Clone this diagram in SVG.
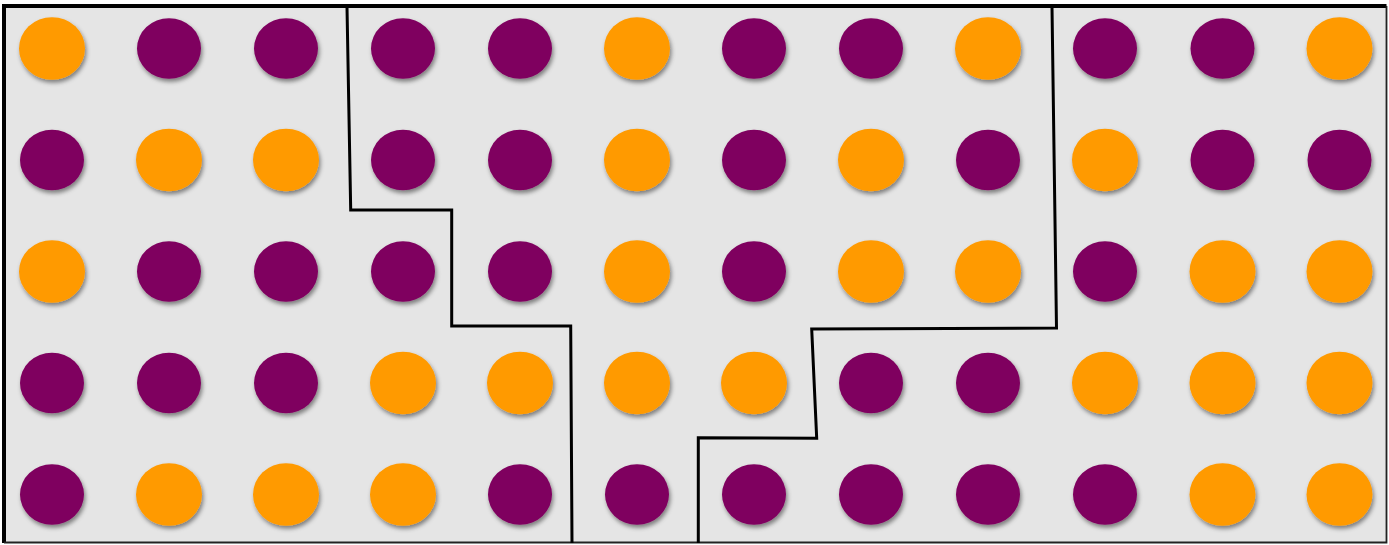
<svg xmlns="http://www.w3.org/2000/svg" width="1389" height="545" viewBox="0 0 1389 545">
<defs>
<filter id="sh" x="-30%" y="-30%" width="170%" height="170%">
<feDropShadow dx="1.5" dy="3" stdDeviation="2.2" flood-color="#000" flood-opacity="0.45"/>
</filter>
<style>
.o{fill:#FF9A00;filter:url(#sh)}
.p{fill:#7F005F;filter:url(#sh)}
.ln{fill:none;stroke:#000;stroke-width:3;stroke-linejoin:miter}
</style>
</defs>
<rect x="0" y="0" width="1389" height="545" fill="#fff"/>
<g id="panel">
<rect x="4" y="6" width="1382.5" height="536.5" fill="#e5e5e5" stroke="none"/>
<path d="M4 543 V6 H1386.5" fill="none" stroke="#000" stroke-width="4"/>
<path d="M1386.5 6 V542.5 H4" fill="none" stroke="#222" stroke-width="1.8"/>
</g>
<g id="dots">
<g id="row1">
<ellipse class="o" cx="52" cy="48.5" rx="33" ry="31.3"/>
<ellipse class="p" cx="169" cy="48.5" rx="32" ry="30.3"/>
<ellipse class="p" cx="286" cy="48.5" rx="32" ry="30.3"/>
<ellipse class="p" cx="403" cy="48.5" rx="32" ry="30.3"/>
<ellipse class="p" cx="520" cy="48.5" rx="32" ry="30.3"/>
<ellipse class="o" cx="637" cy="48.5" rx="33" ry="31.3"/>
<ellipse class="p" cx="754" cy="48.5" rx="32" ry="30.3"/>
<ellipse class="p" cx="871" cy="48.5" rx="32" ry="30.3"/>
<ellipse class="o" cx="988" cy="48.5" rx="33" ry="31.3"/>
<ellipse class="p" cx="1105" cy="48.5" rx="32" ry="30.3"/>
<ellipse class="p" cx="1222.5" cy="48.5" rx="32" ry="30.3"/>
<ellipse class="o" cx="1339.5" cy="48.5" rx="33" ry="31.3"/>
</g>
<g id="row2">
<ellipse class="p" cx="52" cy="160" rx="32" ry="30.3"/>
<ellipse class="o" cx="169" cy="160" rx="33" ry="31.3"/>
<ellipse class="o" cx="286" cy="160" rx="33" ry="31.3"/>
<ellipse class="p" cx="403" cy="160" rx="32" ry="30.3"/>
<ellipse class="p" cx="520" cy="160" rx="32" ry="30.3"/>
<ellipse class="o" cx="637" cy="160" rx="33" ry="31.3"/>
<ellipse class="p" cx="754" cy="160" rx="32" ry="30.3"/>
<ellipse class="o" cx="871" cy="160" rx="33" ry="31.3"/>
<ellipse class="p" cx="988" cy="160" rx="32" ry="30.3"/>
<ellipse class="o" cx="1105" cy="160" rx="33" ry="31.3"/>
<ellipse class="p" cx="1222.5" cy="160" rx="32" ry="30.3"/>
<ellipse class="p" cx="1339.5" cy="160" rx="32" ry="30.3"/>
</g>
<g id="row3">
<ellipse class="o" cx="52" cy="271.5" rx="33" ry="31.3"/>
<ellipse class="p" cx="169" cy="271.5" rx="32" ry="30.3"/>
<ellipse class="p" cx="286" cy="271.5" rx="32" ry="30.3"/>
<ellipse class="p" cx="403" cy="271.5" rx="32" ry="30.3"/>
<ellipse class="p" cx="520" cy="271.5" rx="32" ry="30.3"/>
<ellipse class="o" cx="637" cy="271.5" rx="33" ry="31.3"/>
<ellipse class="p" cx="754" cy="271.5" rx="32" ry="30.3"/>
<ellipse class="o" cx="871" cy="271.5" rx="33" ry="31.3"/>
<ellipse class="o" cx="988" cy="271.5" rx="33" ry="31.3"/>
<ellipse class="p" cx="1105" cy="271.5" rx="32" ry="30.3"/>
<ellipse class="o" cx="1222.5" cy="271.5" rx="33" ry="31.3"/>
<ellipse class="o" cx="1339.5" cy="271.5" rx="33" ry="31.3"/>
</g>
<g id="row4">
<ellipse class="p" cx="52" cy="383" rx="32" ry="30.3"/>
<ellipse class="p" cx="169" cy="383" rx="32" ry="30.3"/>
<ellipse class="p" cx="286" cy="383" rx="32" ry="30.3"/>
<ellipse class="o" cx="403" cy="383" rx="33" ry="31.3"/>
<ellipse class="o" cx="520" cy="383" rx="33" ry="31.3"/>
<ellipse class="o" cx="637" cy="383" rx="33" ry="31.3"/>
<ellipse class="o" cx="754" cy="383" rx="33" ry="31.3"/>
<ellipse class="p" cx="871" cy="383" rx="32" ry="30.3"/>
<ellipse class="p" cx="988" cy="383" rx="32" ry="30.3"/>
<ellipse class="o" cx="1105" cy="383" rx="33" ry="31.3"/>
<ellipse class="o" cx="1222.5" cy="383" rx="33" ry="31.3"/>
<ellipse class="o" cx="1339.5" cy="383" rx="33" ry="31.3"/>
</g>
<g id="row5">
<ellipse class="p" cx="52" cy="494.5" rx="32" ry="30.3"/>
<ellipse class="o" cx="169" cy="494.5" rx="33" ry="31.3"/>
<ellipse class="o" cx="286" cy="494.5" rx="33" ry="31.3"/>
<ellipse class="o" cx="403" cy="494.5" rx="33" ry="31.3"/>
<ellipse class="p" cx="520" cy="494.5" rx="32" ry="30.3"/>
<ellipse class="p" cx="637" cy="494.5" rx="32" ry="30.3"/>
<ellipse class="p" cx="754" cy="494.5" rx="32" ry="30.3"/>
<ellipse class="p" cx="871" cy="494.5" rx="32" ry="30.3"/>
<ellipse class="p" cx="988" cy="494.5" rx="32" ry="30.3"/>
<ellipse class="p" cx="1105" cy="494.5" rx="32" ry="30.3"/>
<ellipse class="o" cx="1222.5" cy="494.5" rx="33" ry="31.3"/>
<ellipse class="o" cx="1339.5" cy="494.5" rx="33" ry="31.3"/>
</g>
</g>
<g id="boundaries">
<path class="ln" d="M347 7 L350.7 210 H451.7 V326 H570.7 L572 543"/>
<path class="ln" d="M1052 7 L1056.5 328 L811.7 329 L816.7 438.3 L698.3 437.8 V543"/>
</g>
</svg>
